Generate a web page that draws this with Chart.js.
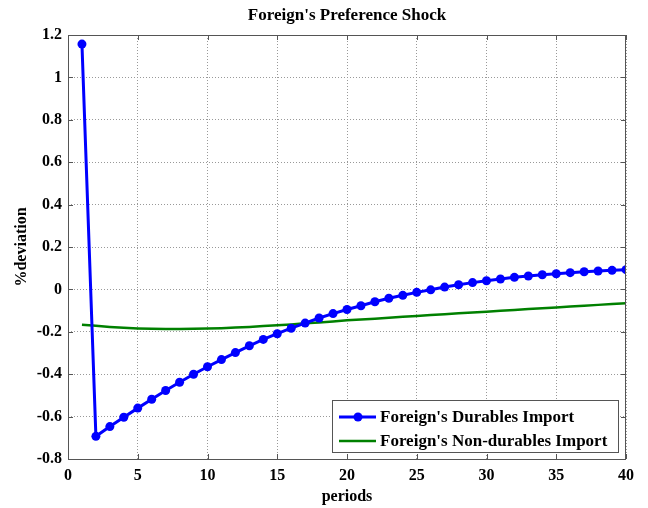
<!DOCTYPE html>
<html>
<head>
<meta charset="utf-8">
<script src="https://cdn.jsdelivr.net/npm/chart.js"></script>
<style>
  html, body { margin: 0; padding: 0; background: #fff; }
  #wrap { width: 648px; height: 508px; }
</style>
</head>
<body>
<div id="wrap"><canvas id="chart" width="648" height="508"></canvas></div>
<script>
const periods = Array.from({ length: 40 }, (_, i) => i + 1);

const durablesImport = [
  1.157, -0.693, -0.647, -0.603, -0.560, -0.518, -0.477, -0.438, -0.400, -0.365,
  -0.331, -0.298, -0.266, -0.236, -0.209, -0.183, -0.159, -0.135, -0.114, -0.095,
  -0.077, -0.058, -0.042, -0.028, -0.014, -0.002, 0.011, 0.022, 0.032, 0.041,
  0.049, 0.057, 0.063, 0.069, 0.074, 0.079, 0.083, 0.087, 0.090, 0.093
];

const nonDurablesImport = [
  -0.167, -0.172, -0.177, -0.181, -0.184, -0.186, -0.187, -0.187, -0.186, -0.185,
  -0.183, -0.180, -0.177, -0.173, -0.169, -0.165, -0.160, -0.156, -0.151, -0.146,
  -0.142, -0.138, -0.134, -0.129, -0.125, -0.121, -0.117, -0.113, -0.109, -0.105,
  -0.101, -0.097, -0.093, -0.089, -0.085, -0.081, -0.077, -0.073, -0.069, -0.065
];

const xTicks = [0, 5, 10, 15, 20, 25, 30, 35, 40];
const yTicks = [-0.8, -0.6, -0.4, -0.2, 0, 0.2, 0.4, 0.6, 0.8, 1, 1.2];

const serif = '"Liberation Serif", "Times New Roman", serif';

// title, axis labels, box, inward ticks and legend, drawn MATLAB-style
const matlabFrame = {
  id: 'matlabFrame',
  afterDraw(chart) {
    const { ctx, chartArea: a, scales } = chart;
    ctx.save();
    ctx.strokeStyle = '#555';
    ctx.lineWidth = 1;
    ctx.strokeRect(a.left + 0.5, a.top + 0.5, a.right - a.left - 1, a.bottom - a.top);

    ctx.beginPath();
    xTicks.forEach(v => {
      const x = Math.round(scales.x.getPixelForValue(v)) + 0.5;
      ctx.moveTo(x, a.bottom); ctx.lineTo(x, a.bottom - 5);
      ctx.moveTo(x, a.top); ctx.lineTo(x, a.top + 5);
    });
    yTicks.forEach(v => {
      const y = Math.round(scales.y.getPixelForValue(v)) + 0.5;
      ctx.moveTo(a.left, y); ctx.lineTo(a.left + 5, y);
      ctx.moveTo(a.right, y); ctx.lineTo(a.right - 5, y);
    });
    ctx.stroke();

    ctx.fillStyle = '#000';
    ctx.textAlign = 'center';
    ctx.textBaseline = 'middle';
    ctx.font = 'bold 17px ' + serif;
    ctx.fillText("Foreign's Preference Shock", (a.left + a.right) / 2, 16);
    ctx.font = 'bold 16px ' + serif;
    ctx.fillText('periods', (a.left + a.right) / 2, 497);
    ctx.save();
    ctx.translate(22, (a.top + a.bottom) / 2);
    ctx.rotate(-Math.PI / 2);
    ctx.fillText('%deviation', 0, 0);
    ctx.restore();

    // legend box
    const bx = 332, by = 400, bw = 286, bh = 52;
    ctx.fillStyle = '#fff';
    ctx.fillRect(bx, by, bw, bh);
    ctx.strokeStyle = '#555';
    ctx.lineWidth = 1;
    ctx.strokeRect(bx + 0.5, by + 0.5, bw, bh);
    ctx.font = 'bold 17px ' + serif;
    ctx.textAlign = 'left';
    chart.data.datasets.forEach((ds, i) => {
      const y = by + 17 + i * 24;
      ctx.strokeStyle = ds.borderColor;
      ctx.lineWidth = ds.borderWidth;
      ctx.beginPath();
      ctx.moveTo(bx + 7, y); ctx.lineTo(bx + 44, y);
      ctx.stroke();
      if (ds.pointRadius > 0) {
        ctx.fillStyle = ds.borderColor;
        ctx.beginPath();
        ctx.arc(bx + 26, y, ds.pointRadius, 0, Math.PI * 2);
        ctx.fill();
      }
      ctx.fillStyle = '#000';
      ctx.fillText(ds.label, bx + 48, y + 1);
    });
    ctx.restore();
  }
};

new Chart(document.getElementById('chart'), {
  type: 'line',
  data: {
    datasets: [
      {
        label: "Foreign's Durables Import",
        data: periods.map((p, i) => ({ x: p, y: durablesImport[i] })),
        borderColor: '#0000ff',
        backgroundColor: '#0000ff',
        borderWidth: 3,
        pointRadius: 4.5,
        pointHoverRadius: 4.5,
        pointBorderWidth: 0,
        tension: 0
      },
      {
        label: "Foreign's Non-durables Import",
        data: periods.map((p, i) => ({ x: p, y: nonDurablesImport[i] })),
        borderColor: '#008000',
        backgroundColor: '#008000',
        borderWidth: 2.5,
        pointRadius: 0,
        tension: 0
      }
    ]
  },
  plugins: [matlabFrame],
  options: {
    responsive: false,
    animation: false,
    events: [],
    layout: { padding: { left: 0, right: 22, top: 35, bottom: 0 } },
    plugins: {
      legend: { display: false },
      title: { display: false },
      tooltip: { enabled: false }
    },
    scales: {
      x: {
        type: 'linear',
        min: 0,
        max: 40,
        afterFit: s => { s.height = 49; },
        afterBuildTicks: s => { s.ticks = xTicks.map(v => ({ value: v })); },
        grid: { color: '#999', lineWidth: 1, drawTicks: false },
        border: { display: false, dash: [1, 2] },
        ticks: {
          padding: 7,
          color: '#000',
          font: { family: serif, size: 16, weight: 'bold' }
        }
      },
      y: {
        min: -0.8,
        max: 1.2,
        afterFit: s => { s.width = 68; },
        afterBuildTicks: s => { s.ticks = yTicks.map(v => ({ value: v })); },
        grid: { color: '#999', lineWidth: 1, drawTicks: false },
        border: { display: false, dash: [1, 2] },
        ticks: {
          padding: 6,
          color: '#000',
          font: { family: serif, size: 16, weight: 'bold' },
          callback: v => String(Math.round(v * 10) / 10)
        }
      }
    }
  }
});
</script>
</body>
</html>
